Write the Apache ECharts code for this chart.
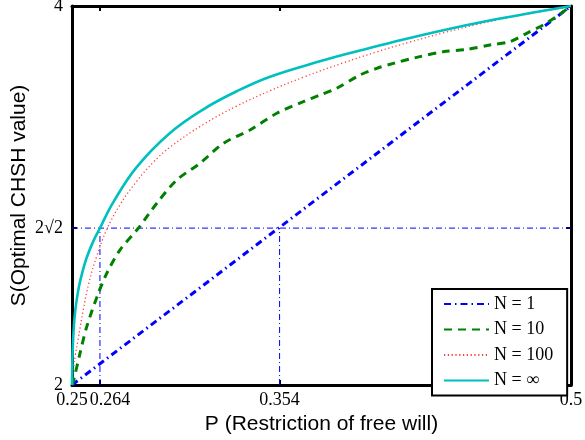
<!DOCTYPE html>
<html><head><meta charset="utf-8">
<script src="https://cdn.jsdelivr.net/npm/echarts@6/dist/echarts.min.js"></script>
<style>html,body{margin:0;padding:0;background:#fff}#c{width:585px;height:440px}</style>
</head><body><div id="c"></div>
<script>
// Tick positions and labels
const xTicks = [0.25, 0.264, 0.354, 0.5];
const xTickLabels = ['0.25', '0.264', '0.354', '0.5'];
const yTicks = [2, 2.828, 4];
const yTickLabels = ['2', '2√2', '4'];
const seriesNames = ['N = 1', 'N = 10', 'N = 100', 'N = ∞'];

// N = 1
const p1 = [0.25, 0.5];
const s1 = [2, 4];
// N = 10
const p10 = [0.25, 0.2507, 0.254, 0.2574, 0.2632, 0.2674, 0.274, 0.2832, 0.2924, 0.3025, 0.3141, 0.3258, 0.3392, 0.3526, 0.3659, 0.3742, 0.3826, 0.3943, 0.4027, 0.411, 0.4227, 0.436, 0.4477, 0.4594, 0.4694, 0.4778, 0.4861, 0.4928, 0.5];
const s10 = [2.0, 2.02, 2.167, 2.308, 2.484, 2.589, 2.712, 2.827, 2.958, 3.082, 3.17, 3.275, 3.346, 3.434, 3.495, 3.53, 3.566, 3.636, 3.671, 3.697, 3.729, 3.759, 3.771, 3.794, 3.812, 3.856, 3.9, 3.944, 4.0];
// N = 100
const p100 = [0.25, 0.2502, 0.2507, 0.2517, 0.253, 0.2557, 0.2585, 0.2624, 0.2674, 0.274, 0.2824, 0.2907, 0.2991, 0.3158, 0.3325, 0.3492, 0.3659, 0.3859, 0.4027, 0.4193, 0.436, 0.4527, 0.4694, 0.4861, 0.5];
const s100 = [2.0, 2.04, 2.09, 2.16, 2.237, 2.40, 2.54, 2.68, 2.82, 2.95, 3.075, 3.175, 3.255, 3.375, 3.472, 3.553, 3.624, 3.70, 3.758, 3.81, 3.858, 3.902, 3.94, 3.972, 4.0];
// N = infinity
const pInf = [0.25, 0.2501, 0.2503, 0.2506, 0.251, 0.2516, 0.2525, 0.2537, 0.2553, 0.2573, 0.2603, 0.264, 0.2707, 0.2824, 0.2991, 0.3158, 0.3325, 0.3492, 0.3742, 0.3943, 0.411, 0.436, 0.4611, 0.4861, 0.5];
const sInf = [2.0, 2.08, 2.17, 2.25, 2.32, 2.39, 2.46, 2.53, 2.6, 2.67, 2.75, 2.828, 2.965, 3.15, 3.33, 3.455, 3.55, 3.627, 3.708, 3.765, 3.81, 3.872, 3.927, 3.975, 4.0];

// Reference lines
const refP = [0.264, 0.354];
const refS = 2.828;
const xMin = 0.25, xMax = 0.5, yMin = 2, yMax = 4;

const zip = (a, b) => a.map((v, i) => [v, b[i]]);
const serif = 'Liberation Serif, Times New Roman, serif';
const sans = 'Liberation Sans, Arial, sans-serif';

const chart = echarts.init(document.getElementById('c'), null, {renderer: 'canvas'});

const axisLineStyle = {show: true, lineStyle: {color: '#000', width: 3}};
const tickStyle = {show: true, inside: true, length: 5, lineStyle: {color: '#000', width: 2}};

const refSeries = [
  {type: 'line', symbol: 'none', silent: true,
   data: [[xMin, refS], [xMax, refS]],
   lineStyle: {color: '#0000ff', width: 1, type: [6, 3, 1, 3]}, z: 1}
].concat(refP.map(p => ({
  type: 'line', symbol: 'none', silent: true,
  data: [[p, yMin], [p, refS]],
  lineStyle: {color: '#0000ff', width: 1, type: [6, 3, 1, 3]}, z: 1
})));

chart.setOption({
  animation: false,
  backgroundColor: '#fff',
  grid: {left: 72, right: 14, top: 6, bottom: 55, containLabel: false, outerBoundsMode: 'none'},
  xAxis: [{
    type: 'value', min: xMin, max: xMax, position: 'bottom',
    axisLine: axisLineStyle,
    axisTick: Object.assign({customValues: xTicks}, tickStyle),
    splitLine: {show: false},
    axisLabel: {
      customValues: xTicks, margin: 6, color: '#000', fontFamily: serif, fontSize: 18,
      formatter: v => {
        const i = xTicks.findIndex(t => Math.abs(t - v) < 1e-9);
        const s = i >= 0 ? xTickLabels[i] : '';
        return i === 1 ? '{s|' + s + '}' : s;
      },
      rich: {s: {fontFamily: serif, fontSize: 18, color: '#000', padding: [0, 0, 0, 20]}}
    },
    name: 'P (Restriction of free will)', nameLocation: 'middle', nameGap: 22,
    nameTextStyle: {fontFamily: sans, fontSize: 21, color: '#000'}
  }, {
    type: 'value', min: xMin, max: xMax, position: 'top',
    axisLine: axisLineStyle,
    axisTick: Object.assign({customValues: xTicks}, tickStyle),
    axisLabel: {show: false}, splitLine: {show: false}
  }],
  yAxis: [{
    type: 'value', min: yMin, max: yMax, position: 'left',
    axisLine: axisLineStyle,
    axisTick: Object.assign({customValues: yTicks}, tickStyle),
    splitLine: {show: false},
    axisLabel: {
      customValues: yTicks, margin: 9, color: '#000', fontFamily: serif, fontSize: 18,
      formatter: v => {
        const i = yTicks.findIndex(t => Math.abs(t - v) < 1e-9);
        return i >= 0 ? yTickLabels[i] : '';
      }
    },
    name: 'S(Optimal CHSH value)', nameLocation: 'middle', nameGap: 42,
    nameMoveOverlap: false,
    nameTextStyle: {fontFamily: sans, fontSize: 21, color: '#000'}
  }, {
    type: 'value', min: yMin, max: yMax, position: 'right',
    axisLine: axisLineStyle,
    axisTick: Object.assign({customValues: yTicks}, tickStyle),
    axisLabel: {show: false}, splitLine: {show: false}
  }],
  legend: {
    data: seriesNames,
    orient: 'vertical', left: 432, top: 289,
    backgroundColor: '#fff', borderColor: '#000', borderWidth: 2,
    padding: [6, 14, 6, 11], itemWidth: 45, itemHeight: 14, itemGap: 7.5,
    itemStyle: {opacity: 0},
    textStyle: {fontFamily: serif, fontSize: 18, color: '#000'},
    selectedMode: false
  },
  series: refSeries.concat([
    {name: seriesNames[0], type: 'line', symbol: 'none', data: zip(p1, s1),
     lineStyle: {color: '#0000ff', width: 3, type: [7, 4, 1.5, 4]}, itemStyle: {color: '#0000ff'}, z: 3},
    {name: seriesNames[1], type: 'line', symbol: 'none', data: zip(p10, s10),
     smooth: 0.3,
     lineStyle: {color: '#008000', width: 3, type: [8, 6]}, itemStyle: {color: '#008000'}, z: 3},
    {name: seriesNames[2], type: 'line', symbol: 'none', data: zip(p100, s100),
     smooth: 0.4,
     lineStyle: {color: '#ff3b3b', width: 1.3, type: [1.2, 2.6]}, itemStyle: {color: '#ff3b3b'}, z: 3},
    {name: seriesNames[3], type: 'line', symbol: 'none', data: zip(pInf, sInf),
     smooth: 0.4,
     lineStyle: {color: '#00bfbf', width: 2.6}, itemStyle: {color: '#00bfbf'}, z: 3}
  ])
});
</script>
</body></html>
